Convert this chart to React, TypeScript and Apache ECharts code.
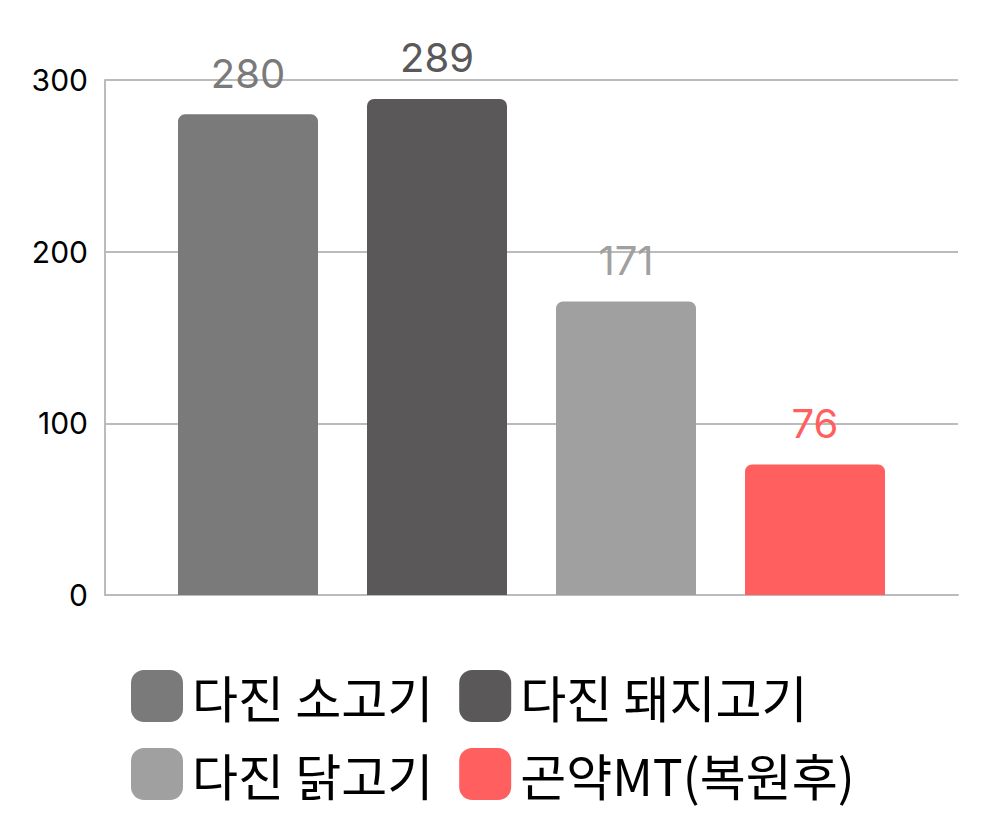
import React, { useEffect, useRef } from "react";
import * as echarts from "echarts";

const seriesNames = ["다진 소고기", "다진 돼지고기", "다진 닭고기", "곤약MT(복원후)"];
const seriesValues = [280, 289, 171, 76];
const seriesColors = ["#7a7a7a", "#5a5859", "#a0a0a0", "#ff5f5f"];
const category = [""];
const yTicks = { min: 0, max: 300, interval: 100 };

const FONT = "Inter, 'Noto Sans CJK KR', sans-serif";
const LEGEND_FONT = "'Noto Sans CJK KR', Inter, sans-serif";

export default function App() {
  const ref = useRef<HTMLDivElement>(null);
  useEffect(() => {
    if (!ref.current) return;
    const chart = echarts.init(ref.current, undefined, { renderer: "svg" });
    const legendBase = {
      left: 118,
      padding: 5,
      itemWidth: 52,
      itemHeight: 52,
      itemGap: 26,
      icon: "roundRect",
      textStyle: { fontSize: 50, fontWeight: "normal", color: "#000", fontFamily: LEGEND_FONT, padding: [0, 0, 0, 4] },
      selectedMode: false,
    };
    chart.setOption({
      animation: false,
      grid: { left: 97, right: 40, top: 72, bottom: 253 },
      legend: [
        { ...legendBase, data: [seriesNames[0], seriesNames[1]], top: 657 },
        { ...legendBase, data: [seriesNames[2], seriesNames[3]], top: 735 },
      ],
      xAxis: {
        type: "category",
        data: category,
        axisLine: { show: true, lineStyle: { color: "#bbbbbb", width: 2 } },
        axisTick: { show: false },
        axisLabel: { show: false },
      },
      yAxis: {
        type: "value",
        min: yTicks.min,
        max: yTicks.max,
        interval: yTicks.interval,
        axisLine: { show: true, lineStyle: { color: "#bbbbbb", width: 2 } },
        axisTick: { show: false },
        axisLabel: { fontSize: 30, color: "#000", fontFamily: FONT, margin: 17 },
        splitLine: { show: true, lineStyle: { color: "#bbbbbb", width: 2 } },
      },
      series: seriesNames.map((name, i) => ({
        name,
        type: "bar",
        data: [seriesValues[i]],
        barWidth: 140,
        barGap: "35%",
        itemStyle: { color: seriesColors[i], borderRadius: [7, 7, 0, 0] },
        label: {
          show: true,
          position: "top",
          distance: 21,
          fontSize: 40,
          color: seriesColors[i],
          fontFamily: FONT,
        },
      })),
    });
    return () => chart.dispose();
  }, []);
  return <div ref={ref} style={{ width: 990, height: 840 }} />;
}
